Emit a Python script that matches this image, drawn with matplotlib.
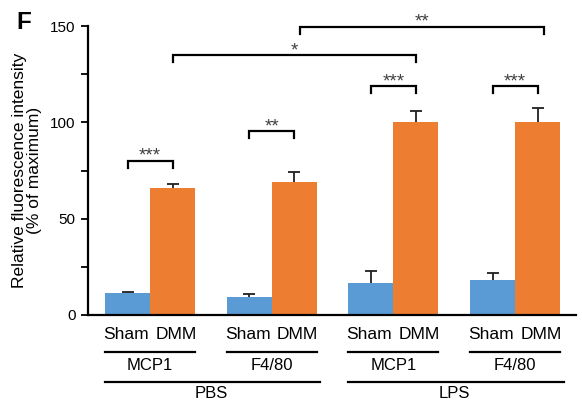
import matplotlib
matplotlib.use("Agg")
import matplotlib.pyplot as plt
import matplotlib.transforms as mtransforms

plt.rcParams['font.family'] = ['Liberation Sans', 'DejaVu Sans']

# ---- data ----
groups = ["MCP1", "F4/80", "MCP1", "F4/80"]
treatments = ["PBS", "LPS"]
conditions = ["Sham", "DMM"]
sham_vals = [11.6, 9.5, 16.4, 18.2]
sham_err = [0.5, 1.4, 6.6, 3.4]
dmm_vals = [66.1, 69.0, 100.0, 100.0]
dmm_err = [2.0, 5.2, 6.0, 7.3]
yticks = [0, 50, 100, 150]

# significance brackets: (x1, x2, y, label)
brackets = [
    (-0.185, 0.185, 80.1, "***"),
    (0.815, 1.185, 95.6, "**"),
    (1.815, 2.185, 118.8, "***"),
    (2.815, 3.185, 118.8, "***"),
    (0.185, 2.185, 134.9, "*"),
    (1.235, 3.235, 149.7, "**"),
]

blue = "#5B9BD5"
orange = "#ED7D31"

fig = plt.figure(figsize=(5.82, 4.05), dpi=100)
ax = fig.add_axes([88/582, 1-315/405, (576-88)/582, (315-26)/405])

w = 0.37
xs = list(range(len(groups)))
xs_sham = [x - w/2 for x in xs]
xs_dmm = [x + w/2 for x in xs]

ax.bar(xs_sham, sham_vals, width=w, color=blue, zorder=2)
ax.bar(xs_dmm, dmm_vals, width=w, color=orange, zorder=2)

def upper_err(xv, yv, ev):
    tops = [a + b for a, b in zip(yv, ev)]
    ax.vlines(xv, yv, tops, color='#202020', lw=1.3, zorder=3)
    ax.plot(xv, tops, linestyle='none', marker='_', markersize=9,
            markeredgewidth=1.3, color='#202020', zorder=3)

upper_err(xs_sham, sham_vals, sham_err)
upper_err(xs_dmm, dmm_vals, dmm_err)

ax.set_xlim(-0.51, 3.5)
ax.set_ylim(0, 150)
ax.set_yticks(yticks)
ax.set_yticks([25, 75, 125], minor=True)
ax.tick_params(axis='y', which='both', direction='out', length=5, width=1.3,
               labelsize=11, pad=4)
ax.set_xticks([])
for s in ['top', 'right']:
    ax.spines[s].set_visible(False)
ax.spines['left'].set_linewidth(1.6)
ax.spines['bottom'].set_linewidth(1.6)

ax.set_ylabel("Relative fluorescence intensity\n(% of maximum)", fontsize=12.5,
              linespacing=1.0, labelpad=6)

# brackets
leg = 3.7
for x1, x2, y, lab in brackets:
    ax.plot([x1, x1, x2, x2], [y - leg, y, y, y - leg], color='black', lw=1.6,
            clip_on=False, solid_joinstyle='miter', zorder=4)
    ax.text((x1 + x2) / 2, y - 2.2, lab, ha='center', va='bottom', fontsize=13.5,
            color='#404040', clip_on=False)

# category labels under axis
trans = mtransforms.blended_transform_factory(ax.transData, ax.transAxes)
for xa, xb in zip(xs_sham, xs_dmm):
    ax.text(xa - 0.014, -0.069, conditions[0], transform=trans, ha='center', va='center', fontsize=12.5)
    ax.text(xb + 0.027, -0.069, conditions[1], transform=trans, ha='center', va='center', fontsize=12.5)
for x, g in zip(xs, groups):
    ax.plot([x - w, x + w], [-0.128, -0.128], transform=trans, color='black', lw=1.6, clip_on=False)
    ax.text(x, -0.176, g, transform=trans, ha='center', va='center', fontsize=12)
for i, t in enumerate(treatments):
    a, b = 2 * i, 2 * i + 1
    ax.plot([a - w, b + w + 0.03], [-0.232, -0.232], transform=trans, color='black', lw=1.6, clip_on=False)
    ax.text((a + b) / 2, -0.272, t, transform=trans, ha='center', va='center', fontsize=12)

fig.text(16/582, 1-29/405, "F", fontsize=17.5, fontweight='bold', ha='left', va='baseline')

fig.savefig("out.png", dpi=100)
